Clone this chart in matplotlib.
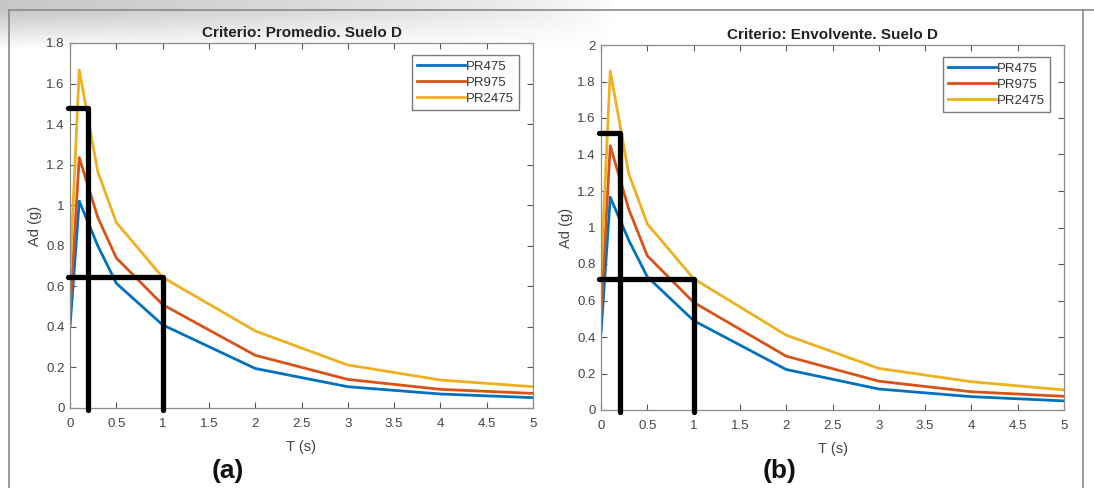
import numpy as np
import matplotlib.pyplot as plt
from matplotlib.ticker import FuncFormatter

plt.rcParams['font.family'] = ['Liberation Sans', 'DejaVu Sans']

# periods (s)
T = [0, 0.1, 0.3, 0.5, 1, 2, 3, 4, 5]

# spectral acceleration Ad (g), criterion: average
prom_475 = [0.40, 1.02, 0.80, 0.615, 0.41, 0.195, 0.105, 0.069, 0.051]
prom_975 = [0.48, 1.235, 0.94, 0.74, 0.51, 0.26, 0.141, 0.092, 0.072]
prom_2475 = [0.66, 1.667, 1.165, 0.915, 0.645, 0.38, 0.212, 0.138, 0.105]

# spectral acceleration Ad (g), criterion: envelope
env_475 = [0.42, 1.166, 0.93, 0.73, 0.49, 0.222, 0.115, 0.073, 0.05]
env_975 = [0.537, 1.448, 1.10, 0.845, 0.59, 0.295, 0.158, 0.10, 0.075]
env_2475 = [0.75, 1.858, 1.295, 1.02, 0.72, 0.41, 0.228, 0.155, 0.11]

labels = ['PR475', 'PR975', 'PR2475']
colors = ['#0072BD', '#D95319', '#EDB120']

# hand-drawn guide lines: (T_a, Ad_a) and (T_b, Ad_b)
guide_prom = [(0.19, 1.48), (1.0, 0.645)]
guide_env = [(0.2, 1.52), (1.0, 0.72)]

W, H = 1094, 488
fig = plt.figure(figsize=(W / 100, H / 100), dpi=100)

# grey shading along the top-left of the page
bg = fig.add_axes([0, 0, 1, 1], zorder=-5)
bg.set_axis_off()
yy = np.linspace(0, 1, 200)[:, None]
xx = np.linspace(0, 1, 400)[None, :]
shade = np.clip(1 - (yy - 0.02) / 0.08, 0, 1) * np.clip(1 - xx / 0.56, 0, 1) ** 0.6
img = 1 - 0.22 * shade
bg.imshow(img, cmap='gray', vmin=0, vmax=1, extent=[0, 1, 1, 0], aspect='auto')
bg.set_xlim(0, 1)
bg.set_ylim(1, 0)
bg.plot([9 / W, 1], [10 / H, 10 / H], color='#8a8a8a', lw=1.2)
bg.plot([9 / W, 9 / W], [10 / H, 1], color='#8a8a8a', lw=1.2)
bg.plot([1083 / W, 1083 / W], [10 / H, 1], color='#8a8a8a', lw=1.2)


def panel(rect, series, ymax, title, guide, tag, tag_x):
    ax = fig.add_axes(rect)
    for vals, lab, c in zip(series, labels, colors):
        ax.plot(T, vals, color=c, lw=2.0, label=lab)
    (t1, a1), (t2, a2) = guide
    kw = dict(color='black', lw=3.8, solid_capstyle='round', clip_on=False, zorder=5)
    ax.plot([-0.02, t1, t1], [a1, a1, -0.005 * ymax], **kw)
    ax.plot([-0.02, t2, t2], [a2, a2, -0.005 * ymax], **kw)
    ax.set_xlim(0, 5)
    ax.set_ylim(0, ymax)
    ax.set_xticks(np.arange(0, 5.01, 0.5))
    ax.set_yticks(np.arange(0, ymax + 0.01, 0.2))
    fmt = FuncFormatter(lambda v, p: '%g' % round(v, 2))
    ax.xaxis.set_major_formatter(fmt)
    ax.yaxis.set_major_formatter(fmt)
    ax.tick_params(direction='in', length=4, width=0.8, top=True, right=True,
                   labelsize=9.5, colors='#555555', labelcolor='#444444', pad=4)
    ax.tick_params(axis='x', pad=7.5)
    for s in ax.spines.values():
        s.set_color('#8c8c8c')
        s.set_linewidth(0.9)
    ax.set_title(title, fontsize=11, fontweight='bold', color='#222222', pad=4)
    ax.set_xlabel('T (s)', fontsize=10.5, color='#444444', labelpad=7)
    ax.set_ylabel('Ad (g)', fontsize=10.5, color='#444444', labelpad=3)
    leg = ax.legend(loc='upper right', bbox_to_anchor=(0.97, 0.967), fontsize=9.5,
                    handlelength=3.6, handletextpad=0.1, borderpad=0.4,
                    labelspacing=0.3, fancybox=False, framealpha=1, borderaxespad=0)
    leg.get_frame().set_edgecolor('#7a7a7a')
    leg.get_frame().set_linewidth(1.0)
    for t in leg.get_texts():
        t.set_color('#333333')
    fig.text(tag_x / W, 1 - 471 / H, tag, fontsize=19, fontweight='bold',
             ha='center', va='center', color='#111111')
    return ax


panel([70 / W, 80 / H, 463 / W, 365 / H], [prom_475, prom_975, prom_2475], 1.8,
      'Criterio: Promedio. Suelo D', guide_prom, '(a)', 228)
panel([601 / W, 78 / H, 463 / W, 365 / H], [env_475, env_975, env_2475], 2.0,
      'Criterio: Envolvente. Suelo D', guide_env, '(b)', 780)

fig.savefig('out.png', dpi=100)
